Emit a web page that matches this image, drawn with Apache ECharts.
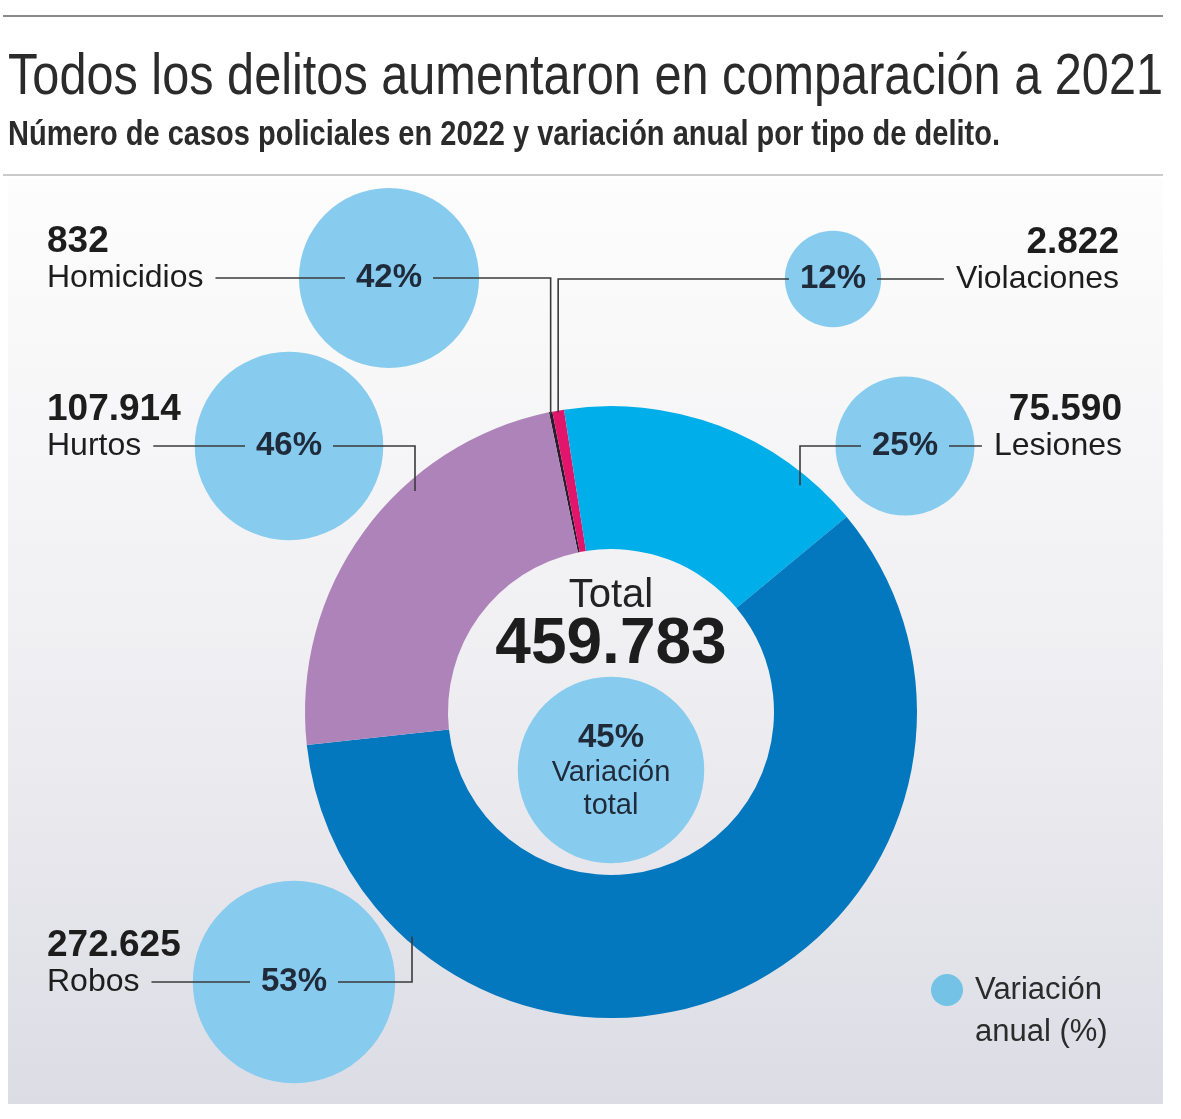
<!DOCTYPE html>
<html>
<head>
<meta charset="utf-8">
<script src="https://cdn.jsdelivr.net/npm/echarts@6/dist/echarts.min.js"></script>
<style>
  html, body { margin: 0; padding: 0; background: #fff; }
  #chart { width: 1181px; height: 1119px; }
</style>
</head>
<body>
<div id="chart"></div>
<script>
// datos: casos policiales 2022 y variación anual (%)
const categories = ["Homicidios", "Violaciones", "Lesiones", "Robos", "Hurtos"];
const cases = [832, 2822, 75590, 272625, 107914];
const variation = [42, 12, 25, 53, 46];
const totalVariation = 45;

const sliceColors = ["#2a1c2c", "#e0156b", "#00aeea", "#0378be", "#ae83ba"];
const bubbleColor = "#87cbee";

// geometría del anillo (px)
const CX = 611, CY = 712, R_OUT = 306, R_IN = 163;
const START = -11.7; // grados desde las 12, sentido horario

// ubicación de cada burbuja y su rótulo
const layout = {
  Homicidios: { bx: 389, by: 278, side: "left", tx: 47, elbow: "slice" },
  Violaciones: { bx: 833, by: 279, side: "right", tx: 1119, elbow: "slice" },
  Lesiones: { bx: 905, by: 446, side: "right", tx: 1122, elbow: 800 },
  Robos: { bx: 294, by: 982, side: "left", tx: 47, elbow: 412 },
  Hurtos: { bx: 289, by: 446, side: "left", tx: 47, elbow: 415 },
};

const fmt = (n) => String(n).replace(/\B(?=(\d{3})+(?!\d))/g, ".");
const total = cases.reduce((a, b) => a + b, 0);
const bubbleSize = (v) => 2 * 13.9 * Math.sqrt(v);

// medir texto con canvas
const ctx = document.createElement("canvas").getContext("2d");
function textWidth(str, font) {
  ctx.font = font;
  return ctx.measureText(str).width;
}

const chart = echarts.init(document.getElementById("chart"));

// ángulo medio de cada porción
const midAngles = [];
let acc = 0;
cases.forEach((v) => {
  midAngles.push(START + (360 * (acc + v / 2)) / total);
  acc += v;
});

const FONT = "'Liberation Sans', Arial, sans-serif";
const LINE = { stroke: "#3a3a3a", lineWidth: 1.6 };

const titleText = "Todos los delitos aumentaron en comparación a 2021";
const titleFont = "57px " + FONT;
const subText = "Número de casos policiales en 2022 y variación anual por tipo de delito.";
const subFont = "bold 35px " + FONT;

const graphics = [
  // fondo del panel
  {
    type: "rect", z: -10, silent: true,
    shape: { x: 8, y: 178, width: 1155, height: 926 },
    style: {
      fill: new echarts.graphic.LinearGradient(0, 0, 0, 1, [
        { offset: 0, color: "#fdfdfd" },
        { offset: 0.5, color: "#f0f0f3" },
        { offset: 1, color: "#dcdce5" },
      ]),
    },
  },
  { type: "line", shape: { x1: 3, y1: 16, x2: 1163, y2: 16 }, style: { stroke: "#8a8a8a", lineWidth: 2 } },
  { type: "line", shape: { x1: 3, y1: 175, x2: 1163, y2: 175 }, style: { stroke: "#b8b8b8", lineWidth: 1.5 } },
  {
    type: "text", x: 8, y: 78, scaleX: 1155 / textWidth(titleText, titleFont),
    style: { x: 0, y: 0, text: titleText, font: titleFont, fill: "#2b2b2b", verticalAlign: "middle" },
  },
  {
    type: "text", x: 8, y: 135, scaleX: 992 / textWidth(subText, subFont),
    style: { x: 0, y: 0, text: subText, font: subFont, fill: "#2b2b2b", verticalAlign: "middle" },
  },
  // total en el centro
  { type: "text", z: 20, style: { x: CX, y: 596, text: "Total", font: "40px " + FONT, fill: "#222", align: "center", verticalAlign: "middle" } },
  { type: "text", z: 20, style: { x: CX, y: 645, text: fmt(total), font: "bold 64px " + FONT, fill: "#1d1d1d", align: "center", verticalAlign: "middle" } },
  { type: "text", z: 20, style: { x: CX, y: 773, text: "Variación", font: "29px " + FONT, fill: "#1f2b3a", align: "center", verticalAlign: "middle" } },
  { type: "text", z: 20, style: { x: CX, y: 806, text: "total", font: "29px " + FONT, fill: "#1f2b3a", align: "center", verticalAlign: "middle" } },
  // leyenda
  { type: "circle", z: 20, shape: { cx: 947, cy: 990, r: 16 }, style: { fill: "#74c2e6" } },
  { type: "text", z: 20, style: { x: 975, y: 990, text: "Variación", font: "31px " + FONT, fill: "#2b2b2b", verticalAlign: "middle" } },
  { type: "text", z: 20, style: { x: 975, y: 1032, text: "anual (%)", font: "31px " + FONT, fill: "#2b2b2b", verticalAlign: "middle" } },
];

// rótulos y líneas guía
categories.forEach((name, i) => {
  const L = layout[name];
  const align = L.side === "left" ? "left" : "right";
  graphics.push({
    type: "text", z: 20,
    style: { x: L.tx, y: L.by - 36, text: fmt(cases[i]), font: "bold 37px " + FONT, fill: "#1d1d1d", align, verticalAlign: "middle" },
  });
  graphics.push({
    type: "text", z: 20,
    style: { x: L.tx, y: L.by, text: name, font: "32px " + FONT, fill: "#1d1d1d", align, verticalAlign: "middle" },
  });

  const nameW = textWidth(name, "32px " + FONT);
  const gap = 44;
  let ex, ey;
  if (L.elbow === "slice") {
    const a = (midAngles[i] * Math.PI) / 180;
    ex = CX + R_OUT * Math.sin(a);
    ey = CY - Math.sqrt(R_OUT * R_OUT - (ex - CX) * (ex - CX)) + 2;
  } else {
    ex = L.elbow;
    const dy = Math.sqrt(R_OUT * R_OUT - (ex - CX) * (ex - CX));
    ey = L.by < CY ? CY - dy + 14 : CY + dy - 8;
  }
  let outer, inner;
  if (L.side === "left") {
    outer = [[L.tx + nameW + 12, L.by], [L.bx - gap, L.by]];
    inner = [[L.bx + gap, L.by], [ex, L.by], [ex, ey]];
  } else {
    outer = [[L.tx - nameW - 12, L.by], [L.bx + gap, L.by]];
    inner = [[L.bx - gap, L.by], [ex, L.by], [ex, ey]];
  }
  graphics.push({ type: "polyline", z: 20, shape: { points: outer }, style: Object.assign({ fill: null }, LINE) });
  graphics.push({ type: "polyline", z: 20, shape: { points: inner }, style: Object.assign({ fill: null }, LINE) });
});

const bubbleData = categories.map((name, i) => ({
  name,
  value: [layout[name].bx, layout[name].by, variation[i]],
}));
bubbleData.push({ name: "Total", value: [CX, 770, totalVariation], label: { offset: [0, -32] } });

const option = {
  animation: false,
  grid: { left: 0, right: 0, top: 0, bottom: 0 },
  xAxis: { type: "value", min: 0, max: 1181, show: false },
  yAxis: { type: "value", min: 0, max: 1119, inverse: true, show: false },
  graphic: graphics,
  series: [
    {
      type: "pie",
      silent: true,
      center: [CX, CY],
      radius: [R_IN, R_OUT],
      startAngle: 90 - START,
      clockwise: true,
      label: { show: false },
      labelLine: { show: false },
      data: categories.map((name, i) => ({ name, value: cases[i], itemStyle: { color: sliceColors[i] } })),
      z: 2,
    },
    {
      type: "scatter",
      silent: true,
      z: 3,
      data: bubbleData,
      symbolSize: (v) => bubbleSize(v[2]),
      itemStyle: { color: bubbleColor, opacity: 1 },
      label: {
        show: true,
        position: "inside",
        formatter: (p) => p.value[2] + "%",
        fontWeight: "bold",
        fontSize: 33,
        fontFamily: FONT,
        color: "#1f2b3a",
      },
    },
  ],
};

chart.setOption(option);
</script>
</body>
</html>
